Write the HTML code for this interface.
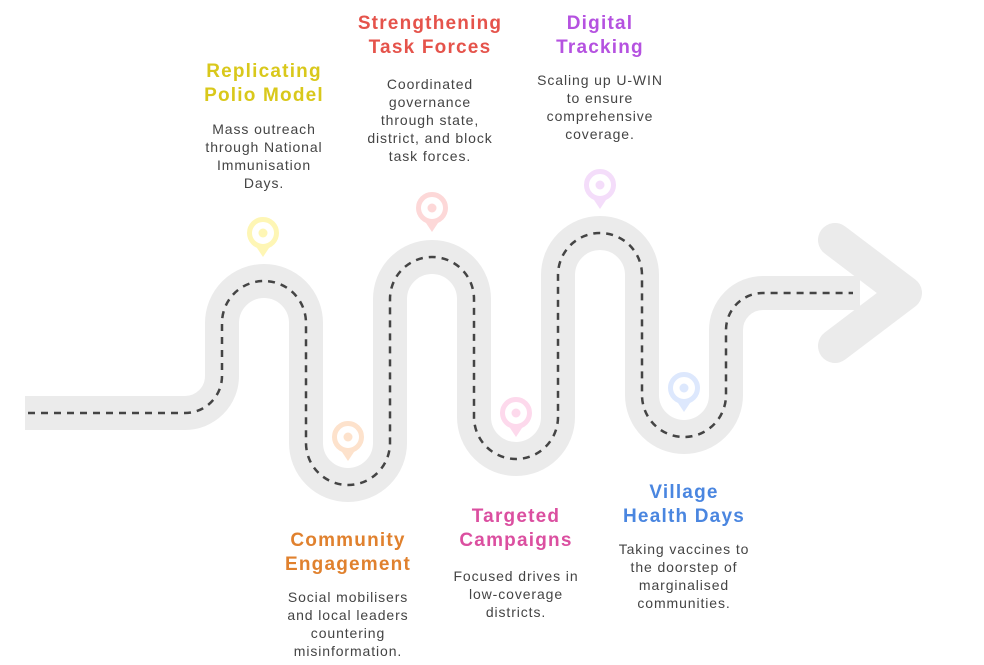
<!DOCTYPE html>
<html><head><meta charset="utf-8"><style>
body{margin:0;background:#fff;width:984px;height:665px;overflow:hidden;position:relative;font-family:"Liberation Sans",sans-serif}
.t{position:absolute;width:240px;text-align:center;font-weight:bold;font-size:19px;line-height:24px;letter-spacing:1.2px}
.b{position:absolute;width:240px;text-align:center;font-size:14px;line-height:18px;color:#444;letter-spacing:0.9px}
</style></head><body>
<svg width="984" height="665" style="position:absolute;left:0;top:0">
<g fill="none" stroke-linecap="butt">
<path d="M25,413 H185 A37,37 0 0 0 222,376 V323 A42,42 0 0 1 306,323 V443 A42,42 0 0 0 390,443 V299 A42,42 0 0 1 474,299 V417 A42,42 0 0 0 558,417 V275 A42,42 0 0 1 642,275 V395 A42,42 0 0 0 726,395 V330 A37,37 0 0 1 763,293 H860" stroke="#ebebeb" stroke-width="34"/>
<polyline points="835,240 905,293 835,346" stroke="#ebebeb" stroke-width="34" stroke-linecap="round" stroke-linejoin="round"/>
<path d="M28,413 H185 A37,37 0 0 0 222,376 V323 A42,42 0 0 1 306,323 V443 A42,42 0 0 0 390,443 V299 A42,42 0 0 1 474,299 V417 A42,42 0 0 0 558,417 V275 A42,42 0 0 1 642,275 V395 A42,42 0 0 0 726,395 V330 A37,37 0 0 1 763,293 H853" stroke="#444" stroke-width="2.5" stroke-dasharray="7,6"/>
</g>
<g>
<g transform="translate(263,233)"><path d="M-8,12 L0,24 L8,12Z" fill="#fef6b5"/><circle r="13.5" fill="none" stroke="#fef6b5" stroke-width="5"/><circle r="4.5" fill="#fef6b5"/></g>
<g transform="translate(348,437)"><path d="M-8,12 L0,24 L8,12Z" fill="#fde2cc"/><circle r="13.5" fill="none" stroke="#fde2cc" stroke-width="5"/><circle r="4.5" fill="#fde2cc"/></g>
<g transform="translate(432,208)"><path d="M-8,12 L0,24 L8,12Z" fill="#fdd8d8"/><circle r="13.5" fill="none" stroke="#fdd8d8" stroke-width="5"/><circle r="4.5" fill="#fdd8d8"/></g>
<g transform="translate(516,413)"><path d="M-8,12 L0,24 L8,12Z" fill="#fdd9ec"/><circle r="13.5" fill="none" stroke="#fdd9ec" stroke-width="5"/><circle r="4.5" fill="#fdd9ec"/></g>
<g transform="translate(600,185)"><path d="M-8,12 L0,24 L8,12Z" fill="#f4ddfa"/><circle r="13.5" fill="none" stroke="#f4ddfa" stroke-width="5"/><circle r="4.5" fill="#f4ddfa"/></g>
<g transform="translate(684,388)"><path d="M-8,12 L0,24 L8,12Z" fill="#dde8fd"/><circle r="13.5" fill="none" stroke="#dde8fd" stroke-width="5"/><circle r="4.5" fill="#dde8fd"/></g>
</g>
</svg>
<div class="t" style="left:144px;top:60px;color:#d9c81b">Replicating<br>Polio Model</div>
<div class="b" style="left:144px;top:120px">Mass outreach<br>through National<br>Immunisation<br>Days.</div>
<div class="t" style="left:310px;top:12px;color:#e5534b">Strengthening<br>Task Forces</div>
<div class="b" style="left:310px;top:75px">Coordinated<br>governance<br>through state,<br>district, and block<br>task forces.</div>
<div class="t" style="left:480px;top:12px;color:#b552e0">Digital<br>Tracking</div>
<div class="b" style="left:480px;top:71px">Scaling up U-WIN<br>to ensure<br>comprehensive<br>coverage.</div>
<div class="t" style="left:228px;top:529px;color:#e0812e">Community<br>Engagement</div>
<div class="b" style="left:228px;top:588px">Social mobilisers<br>and local leaders<br>countering<br>misinformation.</div>
<div class="t" style="left:396px;top:505px;color:#db4fa0">Targeted<br>Campaigns</div>
<div class="b" style="left:396px;top:567px">Focused drives in<br>low-coverage<br>districts.</div>
<div class="t" style="left:564px;top:481px;color:#4a86e0">Village<br>Health Days</div>
<div class="b" style="left:564px;top:540px">Taking vaccines to<br>the doorstep of<br>marginalised<br>communities.</div>
</body></html>
